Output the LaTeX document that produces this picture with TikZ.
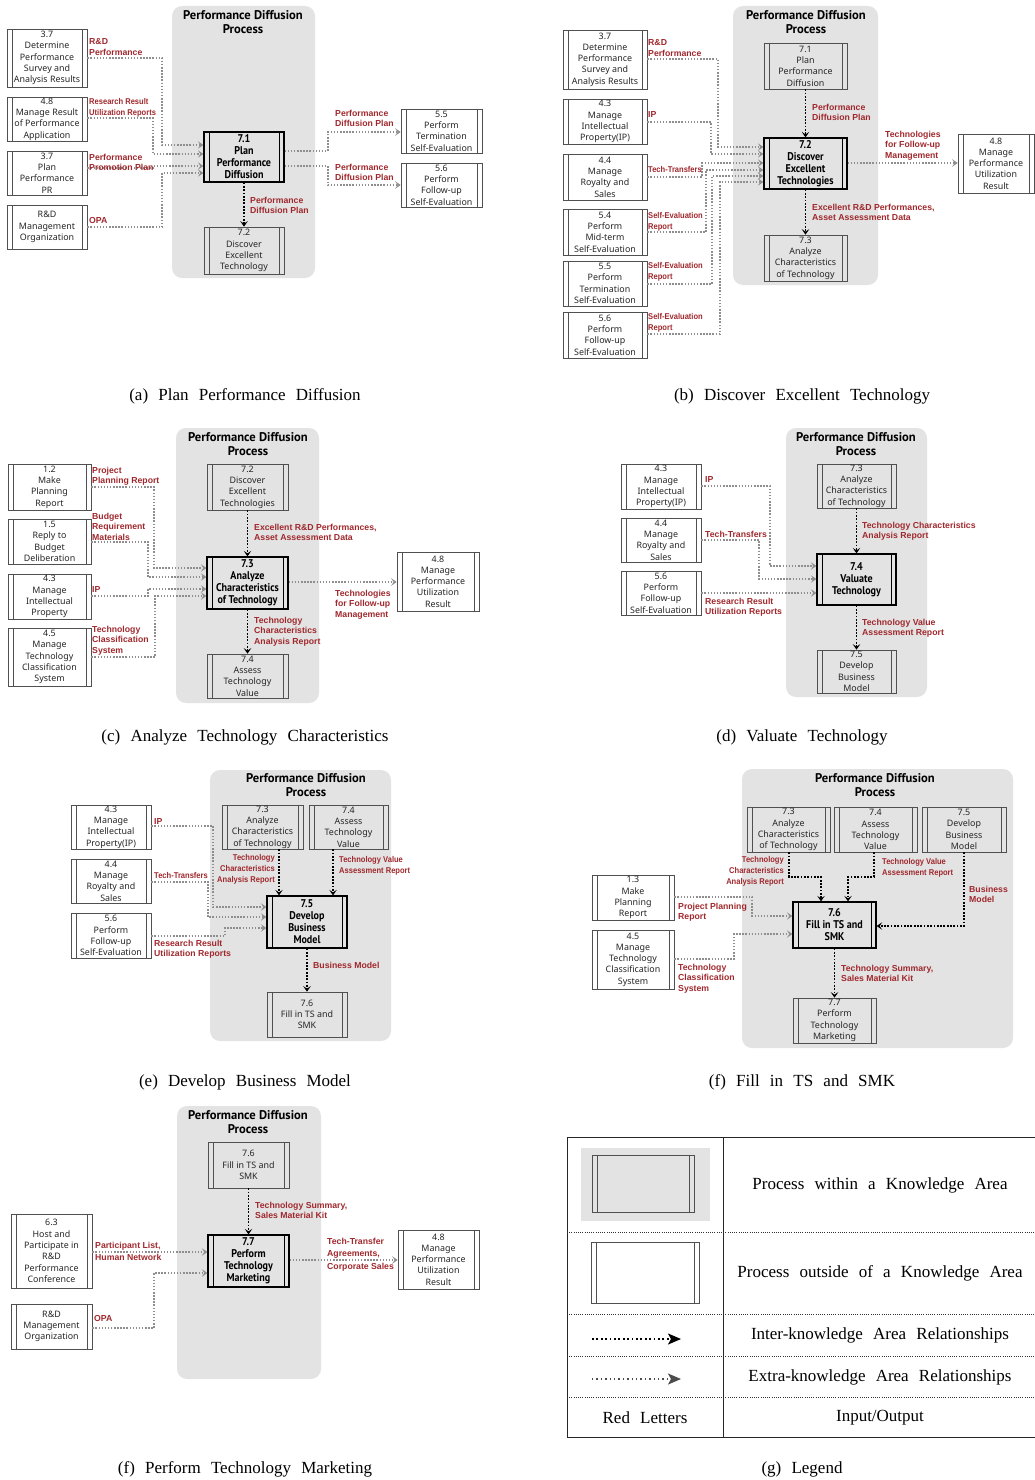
\documentclass[tikz,border=0pt]{standalone}
\usepackage{fontspec}
\setmainfont{Liberation Serif}
\newfontfamily\fntBoxFam{Noto Sans}
\newfontfamily\fntBoldFam[FakeStretch=0.9]{PT Sans}
\newfontfamily\fntTitleFam{PT Sans}
\newfontfamily\fntLblFam{Liberation Sans}
\newfontfamily\fntLblNFam[FakeStretch=0.9]{Liberation Sans}
\usetikzlibrary{arrows.meta,calc}
\definecolor{panelgray}{HTML}{E3E3E3}
\definecolor{procline}{HTML}{505050}
\definecolor{lblred}{HTML}{A0282D}
\definecolor{extgray}{HTML}{8E8E8E}
\newcommand\fntBox{\fntBoxFam\fontsize{8.9}{11.3}\selectfont}
\newcommand\fntMain{\fntBoldFam\bfseries\fontsize{11.2}{12}\selectfont}
\newcommand\fntTitle{\fntTitleFam\bfseries\fontsize{12.6}{13.8}\selectfont}
\newcommand\fntLbl{\fntLblFam\bfseries\fontsize{8.7}{10.8}\selectfont}
\newcommand\fntLblN{\fntLblNFam\bfseries\fontsize{8.4}{10.8}\selectfont}
\newcommand\fntCap{\fontsize{17}{19}\selectfont\spaceskip=0.6em plus 0.1em\relax}
\tikzset{
 vlines/.style={path picture={\draw[#1] ([xshift=5pt]path picture bounding box.north west) -- ([xshift=5pt]path picture bounding box.south west) ([xshift=-5pt]path picture bounding box.north east) -- ([xshift=-5pt]path picture bounding box.south east);}},
 proc/.style={draw=procline, line width=0.7pt, inner sep=0.5pt, align=center, font=\fntBox, text=black!85, vlines={procline,line width=0.6pt}},
 mainproc/.style={draw=black, line width=1.3pt, font=\fntMain, text=black, vlines={black,line width=0.8pt}},
 panel/.style={fill=panelgray, rounded corners=10pt},
 ptitle/.style={font=\fntTitle, align=center, inner sep=0pt},
 lbl/.style={font=\fntLbl, text=lblred, align=left, inner sep=0pt, anchor=north west},
 lbln/.style={lbl, font=\fntLblN},
 lblr/.style={lbln, align=right, anchor=north east},
 ext/.style={draw=extgray, line width=1.6pt, dash pattern=on 1.5pt off 1.6pt, -{Stealth[length=5.5pt,width=7.5pt,inset=2.5pt]}},
 int/.style={draw=black, line width=1.8pt, dash pattern=on 1.8pt off 1.5pt, -{Stealth[length=5.5pt,width=7.5pt,inset=2.5pt]}},
 capt/.style={font=\fntCap, inner sep=0pt},
 legtxt/.style={font=\fntCap, inner sep=0pt},
 legsep/.style={draw=black!80, line width=0.6pt, dash pattern=on 0.8pt off 1.4pt},
}
\newcommand\PB[7][]{\node[proc,#1,minimum width={#5pt-#3pt},minimum height={#6pt-#4pt}] (#2) at ({(#3+#5)/2},{(#4+#6)/2}) {#7};}
\begin{document}
\begin{tikzpicture}[x=1pt,y=-1pt]
\useasboundingbox (0,0) rectangle (1035,1480);
% ================= (a) =================
\fill[panel] (172,6) rectangle (315,278);
\node[ptitle] (aT) at (243,22) {Performance Diffusion\\Process};
\PB{a37}{7}{29}{87}{87}{3.7\\Determine\\Performance\\Survey and\\Analysis Results}
\PB{a48}{7}{97}{87}{141}{4.8\\Manage Result\\of Performance\\Application}
\PB{a37b}{7}{151}{87}{195}{3.7\\Plan\\Performance\\PR}
\PB{aRD}{7}{205}{87}{249}{R\&D\\Management\\Organization}
\PB[mainproc]{a71}{204}{132}{284}{182}{7.1\\Plan\\Performance\\Diffusion}
\PB{a72}{204}{227}{284}{274}{7.2\\Discover\\Excellent\\Technology}
\PB{a55}{401}{109}{482}{153}{5.5\\Perform\\Termination\\Self-Evaluation}
\PB{a56}{401}{163}{482}{207}{5.6\\Perform\\Follow-up\\Self-Evaluation}
\draw[ext] (a37.east |- 0,58) -| (162,145) -- (a71.west |- 0,145);
\draw[ext] (a48.east |- 0,118) -| (153,154) -- (a71.west |- 0,154);
\draw[ext] (a37b.east |- 0,168) -| (153,166) -- (a71.west |- 0,166);
\draw[ext] (aRD.east |- 0,227) -| (162,173) -- (a71.west |- 0,173);
\draw[ext] (a71.east |- 0,151) -| (328,132) -- (a55.west |- 0,132);
\draw[ext] (a71.east |- 0,166) -| (328,185) -- (a56.west |- 0,185);
\draw[int] (a71) -- (a72);
\node[lbl] (la1) at (89,38.5) {R\&D\\Performance};
\node[lbln] (la2) at (89,98.5) {Research Result\\Utilization Reports};
\node[lbl] (la3) at (89,153.5) {Performance\\Promotion Plan};
\node[lbl] (la4) at (89,217.5) {OPA};
\node[lbl] (la5) at (335,109.5) {Performance\\Diffusion Plan};
\node[lbl] (la6) at (335,163.5) {Performance\\Diffusion Plan};
\node[lbl] (la7) at (250,196.5) {Performance\\Diffusion Plan};
\node[capt] (capa) at (245,396) {(a) Plan Performance Diffusion};
% ================= (b) =================
\fill[panel] (733,6) rectangle (878,285);
\node[ptitle] (bT) at (806,22) {Performance Diffusion\\Process};
\PB{b71}{764}{43}{847}{89}{7.1\\Plan\\Performance\\Diffusion}
\PB[mainproc]{b72}{764}{138}{847}{189}{7.2\\Discover\\Excellent\\Technologies}
\PB{b73}{764}{235}{847}{281}{7.3\\Analyze\\Characteristics\\of Technology}
\PB{b48}{958}{134}{1034}{193}{4.8\\Manage\\Performance\\Utilization\\Result}
\PB{b37}{563}{30}{647}{89}{3.7\\Determine\\Performance\\Survey and\\Analysis Results}
\PB{b43}{563}{99}{647}{144}{4.3\\Manage\\Intellectual\\Property(IP)}
\PB{b44}{563}{154}{647}{200}{4.4\\Manage\\Royalty and\\Sales}
\PB{b54}{563}{209}{647}{255}{5.4\\Perform\\Mid-term\\Self-Evaluation}
\PB{b55}{563}{261}{647}{306}{5.5\\Perform\\Termination\\Self-Evaluation}
\PB{b56}{563}{312}{647}{358}{5.6\\Perform\\Follow-up\\Self-Evaluation}
\draw[ext] (b37.east |- 0,59) -| (718,147) -- (b72.west |- 0,147);
\draw[ext] (b43.east |- 0,122) -| (711,154) -- (b72.west |- 0,154);
\draw[ext] (b44.east |- 0,177) -| (702,163) -- (b72.west |- 0,163);
\draw[ext] (b54.east |- 0,232) -| (706,170) -- (b72.west |- 0,170);
\draw[ext] (b55.east |- 0,284) -| (712,176) -- (b72.west |- 0,176);
\draw[ext] (b56.east |- 0,334) -| (720,182) -- (b72.west |- 0,182);
\draw[ext] (b72.east |- 0,163) -- (b48.west |- 0,163);
\draw[int] (b71) -- (b72);
\draw[int] (b72) -- (b73);
\node[lbl] (lb1) at (648,39.5) {R\&D\\Performance};
\node[lbl] (lb2) at (648,111.5) {IP};
\node[lbln] (lb3) at (648,166.5) {Tech-Transfers};
\node[lbln] (lb4) at (648,212.5) {Self-Evaluation\\Report};
\node[lbln] (lb5) at (648,262.5) {Self-Evaluation\\Report};
\node[lbln] (lb6) at (648,313.5) {Self-Evaluation\\Report};
\node[lbl] (lb7) at (812,103.5) {Performance\\Diffusion Plan};
\node[lbl] (lb8) at (812,203.5) {Excellent R\&D Performances,\\Asset Assessment Data};
\node[lbl] (lb9) at (885,130.5) {Technologies\\for Follow-up\\Management};
\node[capt] (capb) at (802,396) {(b) Discover Excellent Technology};
% ================= (c) =================
\fill[panel] (176,428) rectangle (319,703);
\node[ptitle] (cT) at (248,444) {Performance Diffusion\\Process};
\PB{c72}{207}{464}{288}{510}{7.2\\Discover\\Excellent\\Technologies}
\PB[mainproc]{c73}{207}{557}{288}{609}{7.3\\Analyze\\Characteristics\\of Technology}
\PB{c74}{207}{654}{288}{698}{7.4\\Assess\\Technology\\Value}
\PB{c48}{397}{552}{479}{611}{4.8\\Manage\\Performance\\Utilization\\Result}
\PB{c12}{8}{464}{91}{510}{1.2\\Make\\Planning\\Report}
\PB{c15}{8}{519}{91}{564}{1.5\\Reply to\\Budget\\Deliberation}
\PB{c43}{8}{574}{91}{619}{4.3\\Manage\\Intellectual\\Property}
\PB{c45}{8}{628}{91}{686}{4.5\\Manage\\Technology\\Classification\\System}
\draw[ext] (c12.east |- 0,487) -| (154,568) -- (c73.west |- 0,568);
\draw[ext] (c15.east |- 0,542) -| (148,577) -- (c73.west |- 0,577);
\draw[ext] (c43.east |- 0,596) -| (148,589) -- (c73.west |- 0,589);
\draw[ext] (c45.east |- 0,657) -| (155,596) -- (c73.west |- 0,596);
\draw[ext] (c73.east |- 0,582) -- (c48.west |- 0,582);
\draw[int] (c72) -- (c73);
\draw[int] (c73) -- (c74);
\node[lbl] (lc1) at (92,466.5) {Project\\Planning Report};
\node[lbl] (lc2) at (92,512.5) {Budget\\Requirement\\Materials};
\node[lbl] (lc3) at (92,586.5) {IP};
\node[lbl] (lc4) at (92,625.5) {Technology\\Classification\\System};
\node[lbl] (lc5) at (254,523.5) {Excellent R\&D Performances,\\Asset Assessment Data};
\node[lbl] (lc6) at (254,616.5) {Technology\\Characteristics\\Analysis Report};
\node[lbl] (lc7) at (335,589.5) {Technologies\\for Follow-up\\Management};
\node[capt] (capc) at (245,737) {(c) Analyze Technology Characteristics};
% ================= (d) =================
\fill[panel] (786,428) rectangle (927,697);
\node[ptitle] (dT) at (856,444) {Performance Diffusion\\Process};
\PB{d73}{817}{464}{896}{508}{7.3\\Analyze\\Characteristics\\of Technology}
\PB[mainproc]{d74}{817}{554}{896}{605}{7.4\\Valuate\\Technology}
\PB{d75}{817}{650}{896}{693}{7.5\\Develop\\Business\\Model}
\PB{d43}{621}{464}{701}{509}{4.3\\Manage\\Intellectual\\Property(IP)}
\PB{d44}{621}{518}{701}{562}{4.4\\Manage\\Royalty and\\Sales}
\PB{d56}{621}{571}{701}{615}{5.6\\Perform\\Follow-up\\Self-Evaluation}
\draw[ext] (d43.east |- 0,486) -| (770,566) -- (d74.west |- 0,566);
\draw[ext] (d44.east |- 0,540) -| (759,579) -- (d74.west |- 0,579);
\draw[ext] (d56.east |- 0,593) -- (d74.west |- 0,593);
\draw[int] (d73) -- (d74);
\draw[int] (d74) -- (d75);
\node[lbl] (ld1) at (705,476.5) {IP};
\node[lbl] (ld2) at (705,530.5) {Tech-Transfers};
\node[lbl] (ld3) at (705,597.5) {Research Result\\Utilization Reports};
\node[lbl] (ld4) at (862,521.5) {Technology Characteristics\\Analysis Report};
\node[lbl] (ld5) at (862,618.5) {Technology Value\\Assessment Report};
\node[capt] (capd) at (802,737) {(d) Valuate Technology};
% ================= (e) =================
\fill[panel] (210,770) rectangle (391,1041);
\node[ptitle] (eT) at (306,785) {Performance Diffusion\\Process};
\PB{e73}{222}{805}{303}{849}{7.3\\Analyze\\Characteristics\\of Technology}
\PB{e74}{309}{805}{388}{849}{7.4\\Assess\\Technology\\Value}
\PB[mainproc]{e75}{267}{896}{347}{948}{7.5\\Develop\\Business\\Model}
\PB{e76}{267}{992}{347}{1037}{7.6\\Fill in TS and\\SMK}
\PB{e43}{71}{805}{151}{849}{4.3\\Manage\\Intellectual\\Property(IP)}
\PB{e44}{71}{859}{151}{903}{4.4\\Manage\\Royalty and\\Sales}
\PB{e56}{71}{913}{151}{958}{5.6\\Perform\\Follow-up\\Self-Evaluation}
\draw[ext] (e43.east |- 0,826) -| (213,907) -- (e75.west |- 0,907);
\draw[ext] (e44.east |- 0,882) -| (208,917) -- (e75.west |- 0,917);
\draw[ext] (e56.east |- 0,936) -| (225,928) -- (e75.west |- 0,928);
\draw[int] (e73.south -| 279,0) -- (e75.north -| 279,0);
\draw[int] (e74.south -| 333,0) -- (e75.north -| 333,0);
\draw[int] (e75) -- (e76);
\node[lbl] (le1) at (154,818.5) {IP};
\node[lbln] (le2) at (154,872.5) {Tech-Transfers};
\node[lbl] (le3) at (154,939.5) {Research Result\\Utilization Reports};
\node[lblr] (le4) at (275,854.5) {Technology\\Characteristics\\Analysis Report};
\node[lbln] (le5) at (339,856.5) {Technology Value\\Assessment Report};
\node[lbl] (le6) at (313,961.5) {Business Model};
\node[capt] (cape) at (245,1082) {(e) Develop Business Model};
% ================= (f) =================
\fill[panel] (742,769) rectangle (1013,1048);
\node[ptitle] (fT) at (875,785) {Performance Diffusion\\Process};
\PB{f73}{747}{807}{830}{852}{7.3\\Analyze\\Characteristics\\of Technology}
\PB{f74}{834}{807}{917}{852}{7.4\\Assess\\Technology\\Value}
\PB{f75}{922}{807}{1006}{852}{7.5\\Develop\\Business\\Model}
\PB[mainproc]{f76}{793}{902}{876}{948}{7.6\\Fill in TS and\\SMK}
\PB{f77}{793}{998}{876}{1043}{7.7\\Perform\\Technology\\Marketing}
\PB{f13}{592}{875}{674}{920}{1.3\\Make\\Planning\\Report}
\PB{f45}{592}{930}{674}{989}{4.5\\Manage\\Technology\\Classification\\System}
\draw[ext] (f13.east |- 0,897) -| (752,916) -- (f76.west |- 0,916);
\draw[ext] (f45.east |- 0,959) -| (734,934) -- (f76.west |- 0,934);
\draw[int] (f73.south -| 789,0) |- (821,877) -- (f76.north -| 821,0);
\draw[int] (f74.south -| 874,0) |- (848,877) -- (f76.north -| 848,0);
\draw[int] (f75.south -| 964,0) |- (f76.east |- 0,926);
\draw[int] (f76) -- (f77);
\node[lblr] (lf1) at (784,856.5) {Technology\\Characteristics\\Analysis Report};
\node[lbln] (lf2) at (882,858.5) {Technology Value\\Assessment Report};
\node[lbl] (lf3) at (969,885.5) {Business\\Model};
\node[lbl] (lf4) at (678,902.5) {Project Planning\\Report};
\node[lbl] (lf5) at (678,963.5) {Technology\\Classification\\System};
\node[lbl] (lf6) at (841,964.5) {Technology Summary,\\Sales Material Kit};
\node[capt] (capf) at (802,1082) {(f) Fill in TS and SMK};
% ================= (f2) =================
\fill[panel] (177,1106) rectangle (321,1379);
\node[ptitle] (gT) at (248,1122) {Performance Diffusion\\Process};
\PB{g76}{208}{1142}{289}{1188}{7.6\\Fill in TS and\\SMK}
\PB[mainproc]{g77}{208}{1235}{289}{1287}{7.7\\Perform\\Technology\\Marketing}
\PB{g48}{398}{1230}{479}{1289}{4.8\\Manage\\Performance\\Utilization\\Result}
\PB{g63}{11}{1214}{92}{1288}{6.3\\Host and\\Participate in\\R\&D\\Performance\\Conference}
\PB{gRD}{11}{1304}{92}{1349}{R\&D\\Management\\Organization}
\draw[ext] (g63.east |- 0,1252) -- (g77.west |- 0,1252);
\draw[ext] (gRD.east |- 0,1328) -| (154,1273) -- (g77.west |- 0,1273);
\draw[ext] (g77.east |- 0,1260) -- (g48.west |- 0,1260);
\draw[int] (g76) -- (g77);
\node[lbl] (lg1) at (95,1242) {Participant List,\\[1.5pt]Human Network};
\node[lbl] (lg2) at (94,1315.5) {OPA};
\node[lbl] (lg3) at (327,1238) {Tech-Transfer\\[1pt]Agreements,\\[2.5pt]Corporate Sales};
\node[lbl] (lg4) at (255,1201.5) {Technology Summary,\\Sales Material Kit};
\node[capt] (capf2) at (245,1469) {(f) Perform Technology Marketing};
% ================= (g) legend =================
\draw[black!85, line width=0.9pt] (1035,1137) -- (567,1137) -- (567,1437) -- (1035,1437);
\draw[black!85, line width=0.9pt] (723,1137) -- (723,1437);
\draw[legsep] (567,1232) -- (1035,1232);
\draw[legsep] (567,1314) -- (1035,1314);
\draw[legsep] (567,1356) -- (1035,1356);
\draw[legsep] (567,1397) -- (1035,1397);
\fill[panelgray] (581,1148) rectangle (710,1221);
\PB[fill=panelgray]{lgA}{592}{1155}{694}{1212}{}
\PB{lgB}{591}{1242}{699}{1303}{}
\coordinate (l1s) at (592,1339);
\coordinate (l1e) at (681,1339);
\coordinate (l2s) at (592,1379);
\coordinate (l2e) at (681,1379);
\draw[black, line width=1.8pt, dash pattern=on 1.8pt off 2.6pt, -{Stealth[length=13pt,width=11pt,inset=3pt]}] (l1s) -- (l1e);
\draw[black!70, line width=1.4pt, dash pattern=on 1.4pt off 3pt, -{Stealth[length=13pt,width=11pt,inset=3pt]}] (l2s) -- (l2e);
\node[legtxt] (lt1) at (880,1185) {Process within a Knowledge Area};
\node[legtxt] (lt2) at (880,1273) {Process outside of a Knowledge Area};
\node[legtxt] (lt3) at (880,1335) {Inter-knowledge Area Relationships};
\node[legtxt] (lt4) at (880,1377) {Extra-knowledge Area Relationships};
\node[legtxt] (lt5) at (645,1418) {Red Letters};
\node[legtxt] (lt6) at (880,1418) {Input/Output};
\node[capt] (capg) at (802,1469) {(g) Legend};
\end{tikzpicture}
\end{document}
